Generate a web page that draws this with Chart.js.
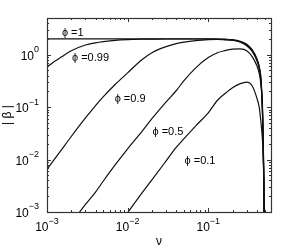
<!DOCTYPE html>
<html>
<head>
<meta charset="utf-8">
<script src="https://cdn.jsdelivr.net/npm/chart.js@4/dist/chart.umd.min.js"></script>
<style>
  html, body { margin: 0; padding: 0; background: #fff; }
  #c { display: block; }
</style>
</head>
<body>
<canvas id="c" width="299" height="250"></canvas>
<script>
// |beta| against nu for several phi (log-log)

var nu = [0.001, 0.0015, 0.002, 0.003, 0.004, 0.005, 0.007, 0.01, 0.015, 0.02,
          0.03, 0.04, 0.05, 0.07, 0.1, 0.13, 0.16, 0.2, 0.25, 0.3,
          0.35, 0.4, 0.43, 0.45, 0.47, 0.48, 0.49, 0.495];

var beta_1    = [2, 2, 2, 2, 2, 2, 2, 2, 2, 2,
                 2, 2, 2, 2, 2, 1.99, 1.97, 1.93, 1.8, 1.58,
                 1.25, 0.85, 0.58, 0.36, 0.09, 0.024, 0.0026, 0.0003];
var beta_099  = [0.59, 0.9, 1.19, 1.53, 1.68, 1.77, 1.88, 1.94, 1.97, 1.98,
                 1.99, 1.99, 1.99, 1.99, 1.99, 1.98, 1.95, 1.9, 1.76, 1.54,
                 1.21, 0.82, 0.56, 0.34, 0.086, 0.022, 0.0024, 0.0003];
var beta_09   = [0.0065, 0.0151, 0.0275, 0.062, 0.107, 0.158, 0.27, 0.45, 0.8, 1.09,
                 1.42, 1.62, 1.73, 1.85, 1.93, 1.95, 1.92, 1.88, 1.72, 1.48,
                 1.15, 0.77, 0.52, 0.31, 0.08, 0.02, 0.0022, 0.0003];
var beta_05   = [null, null, 0.00061, 0.0014, 0.0024, 0.0039, 0.0079, 0.016, 0.034, 0.06,
                 0.126, 0.205, 0.32, 0.56, 0.88, 1.09, 1.19, 1.27, 1.29, 1.19,
                 0.92, 0.62, 0.43, 0.27, 0.11, 0.03, 0.0033, 0.0004];
var beta_01   = [null, null, null, null, null, null, 0.00048, 0.00097, 0.0023, 0.0041,
                 0.0094, 0.017, 0.025, 0.044, 0.078, 0.135, 0.18, 0.235, 0.28, 0.3,
                 0.255, 0.15, 0.097, 0.052, 0.024, 0.012, 0.0033, 0.0005];

// curve labels: text, nu, beta of the left/middle of the text
var curveLabels = ['\u03D5 =1', '\u03D5 =0.99', '\u03D5 =0.9', '\u03D5 =0.5', '\u03D5 =0.1'];
var labelNu     = [0.00153, 0.00204, 0.0069, 0.0203, 0.0508];
var labelBeta   = [2.63, 0.876, 0.144, 0.0337, 0.0094];

var xTicks = [0.001, 0.01, 0.1];
var xTickExp = ['\u22123', '\u22122', '\u22121'];
var yTicks = [0.001, 0.01, 0.1, 1];
var yTickExp = ['\u22123', '\u22122', '\u22121', '0'];

var FONT = '"Liberation Sans", Arial, Helvetica, sans-serif';

function pts(ys) {
  var out = [];
  for (var i = 0; i < nu.length; i++) out.push({ x: nu[i], y: ys[i] });
  return out;
}

function series(ys) {
  return {
    data: pts(ys),
    borderColor: '#111',
    borderWidth: 1.2,
    pointRadius: 0,
    fill: false,
    cubicInterpolationMode: 'monotone',
    spanGaps: false
  };
}

// tick values 1..9 x 10^n inside [lo, hi]
function minorTicks(lo, hi) {
  var out = [];
  for (var d = lo; d < hi * 1.0001; d *= 10) {
    for (var k = 1; k <= 9; k++) {
      var v = d * k;
      if (v >= lo * 0.9999 && v <= hi * 1.0001) out.push(v);
    }
  }
  return out;
}

function isDecade(v) {
  return Math.abs(Math.log10(v) - Math.round(Math.log10(v))) < 1e-6;
}

var decorate = {
  id: 'decorate',
  afterDraw: function (chart) {
    var ctx = chart.ctx;
    var a = chart.chartArea;
    var xs = chart.scales.x, ys = chart.scales.y;
    ctx.save();

    // inner ticks on all four sides
    ctx.strokeStyle = '#333';
    ctx.lineWidth = 1;
    ctx.beginPath();
    minorTicks(0.001, 0.6).forEach(function (v) {
      var px = Math.round(xs.getPixelForValue(v)) + 0.5;
      var len = isDecade(v) ? 4 : 2;
      ctx.moveTo(px, a.bottom); ctx.lineTo(px, a.bottom - len);
      ctx.moveTo(px, a.top); ctx.lineTo(px, a.top + len);
    });
    minorTicks(0.001, 5).forEach(function (v) {
      var py = Math.round(ys.getPixelForValue(v)) + 0.5;
      var len = isDecade(v) ? 4 : 2;
      ctx.moveTo(a.left, py); ctx.lineTo(a.left + len, py);
      ctx.moveTo(a.right, py); ctx.lineTo(a.right - len, py);
    });
    ctx.stroke();

    // box
    ctx.lineWidth = 1.2;
    ctx.strokeRect(Math.round(a.left) + 0.5, Math.round(a.top) + 0.5,
                   Math.round(a.right - a.left), Math.round(a.bottom - a.top));

    ctx.fillStyle = '#000';
    ctx.textBaseline = 'middle';

    // x tick labels: 10 with exponent
    xTicks.forEach(function (v, i) {
      var px = xs.getPixelForValue(v);
      ctx.font = '12px ' + FONT;
      var w1 = ctx.measureText('10').width;
      ctx.font = '9px ' + FONT;
      var w2 = ctx.measureText(xTickExp[i]).width;
      var x0 = px - (w1 + w2) / 2;
      ctx.font = '12px ' + FONT;
      ctx.textAlign = 'left';
      ctx.fillText('10', x0, a.bottom + 16);
      ctx.font = '9px ' + FONT;
      ctx.fillText(xTickExp[i], x0 + w1, a.bottom + 10);
    });

    // y tick labels
    yTicks.forEach(function (v, i) {
      var py = ys.getPixelForValue(v);
      ctx.font = '9px ' + FONT;
      var w2 = ctx.measureText(yTickExp[i]).width;
      var xr = a.left - 8;
      ctx.textAlign = 'left';
      ctx.fillText(yTickExp[i], xr - w2, py - 5);
      ctx.font = '12px ' + FONT;
      ctx.textAlign = 'right';
      ctx.fillText('10', xr - w2, py + 2);
    });

    // axis titles
    ctx.font = '12px ' + FONT;
    ctx.textAlign = 'center';
    ctx.fillText('\u03BD', (a.left + a.right) / 2, a.bottom + 30);
    ctx.save();
    ctx.translate(8, (a.top + a.bottom) / 2);
    ctx.rotate(-Math.PI / 2);
    ctx.fillText('| \u03B2 |', 0, 0);
    ctx.restore();

    // curve labels
    ctx.font = '11px ' + FONT;
    ctx.textAlign = 'left';
    curveLabels.forEach(function (t, i) {
      ctx.fillText(t, xs.getPixelForValue(labelNu[i]), ys.getPixelForValue(labelBeta[i]));
    });

    ctx.restore();
  }
};

new Chart(document.getElementById('c'), {
  type: 'line',
  data: {
    datasets: [series(beta_1), series(beta_099), series(beta_09), series(beta_05), series(beta_01)]
  },
  options: {
    responsive: false,
    animation: false,
    events: [],
    layout: { padding: { left: 47, right: 28, top: 18, bottom: 38 } },
    plugins: { legend: { display: false }, tooltip: { enabled: false } },
    scales: {
      x: { type: 'logarithmic', min: 0.001, max: 0.6, display: false },
      y: { type: 'logarithmic', min: 0.001, max: 5, display: false }
    }
  },
  plugins: [decorate]
});
</script>
</body>
</html>
